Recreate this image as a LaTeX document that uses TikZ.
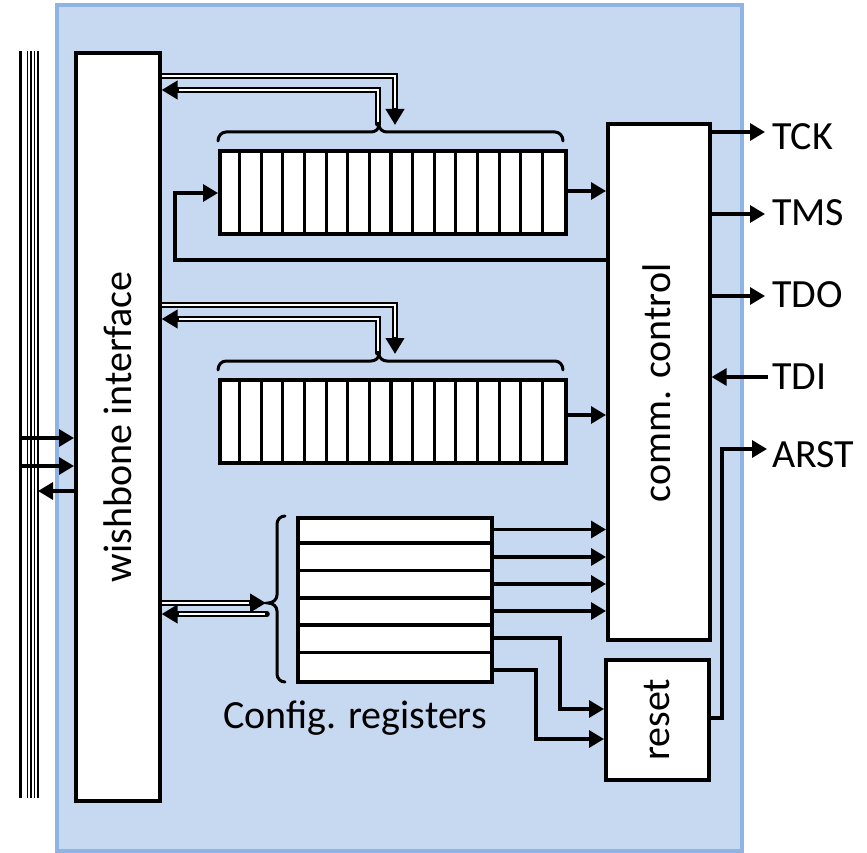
\documentclass[tikz,border=0pt]{standalone}
\usepackage{fontspec}
\setmainfont{Carlito}
\usetikzlibrary{arrows.meta}
\definecolor{bgfill}{HTML}{C6D9F1}
\definecolor{bgedge}{HTML}{8EB4E3}
\begin{document}
\begin{tikzpicture}[x=1pt,y=-1pt,
  box/.style={draw, line width=3.6pt, fill=white, inner sep=0pt},
  cellline/.style={line width=3.2pt},
  conn/.style={line width=3.2pt, -{Triangle[length=15pt,width=17pt]}},
  dblout/.style={line width=5.6pt, line cap=round, -{Triangle[length=16pt,width=18pt]}},
  dblin/.style={line width=2pt, white, shorten >=17pt},
  lbl/.style={font=\fontsize{40}{48}\selectfont, inner sep=0pt},
  bracestyle/.style={line width=3pt, line cap=round}]
\useasboundingbox (0,0) rectangle (867,853);
% background panel
\fill[bgfill] (57,5) rectangle (742,851);
\draw[bgedge, line width=3.5pt] (57,5) rectangle (742,851);
% bus lines
\draw[line width=2.4pt] (20.5,51) -- (20.5,798);
\foreach \x in {27.5,31,34.5,38} \draw[line width=1.7pt] (\x,51) -- (\x,798);
% blocks
\node[box, minimum width=84pt, minimum height=748pt, anchor=north west] (wb) at (74,51) {};
\node[lbl, rotate=90] at (wb.center) {wishbone interface};
\node[box, minimum width=102pt, minimum height=516pt, anchor=north west] (cc) at (606,122) {};
\node[lbl, rotate=90] at (657,383) {comm. control};
\node[box, minimum width=103pt, minimum height=120pt, anchor=north west] (rst) at (604,658) {};
\node[lbl, rotate=90] at (rst.center) {reset};
% FIFO 1
\node[box, minimum width=346pt, minimum height=83pt, anchor=north west] (f1) at (218,149) {};
\foreach \i in {1,...,15} \draw[cellline] (218+\i*21.625,149) -- (218+\i*21.625,232);
% FIFO 2
\node[box, minimum width=346pt, minimum height=83pt, anchor=north west] (f2) at (218,378) {};
\foreach \i in {1,...,15} \draw[cellline] (218+\i*21.625,378) -- (218+\i*21.625,461);
% config registers
\node[box, minimum width=194pt, minimum height=164pt, anchor=north west] (cfg) at (296,516) {};
\foreach \y in {543,570.5,598,625,652.5} \draw[cellline] (296,\y) -- (490,\y);
\node[lbl, anchor=center] (cfglbl) at (355,718) {Config. registers};
% braces
\draw[bracestyle] (218,141) to[out=90,in=180] (226,132) -- (371,132) to[out=0,in=-90] (379,125) to[out=-90,in=180] (387,132) -- (555,132) to[out=0,in=90] (563,141);
\draw[bracestyle] (218,370) to[out=90,in=180] (226,361) -- (371,361) to[out=0,in=-90] (379,354) to[out=-90,in=180] (387,361) -- (555,361) to[out=0,in=90] (563,370);
\draw[bracestyle] (285,516) to[out=180,in=90] (277,524) -- (277,595) to[out=-90,in=0] (268,603) to[out=0,in=90] (277,611) -- (277,674) to[out=-90,in=180] (285,682);
% double arrows FIFO 1
\draw[dblout, line cap=butt] (wb.east |- 0,76) -- (395,76) -- (395,125);
\draw[dblin] (wb.east |- 0,76) -- (395,76) -- (395,125);
\draw[dblout] (378,124) -- (378,90) -- (wb.east |- 0,90);
\draw[dblin, shorten <=2pt] (378,124) -- (378,90) -- (wb.east |- 0,90);
% double arrows FIFO 2
\draw[dblout, line cap=butt] (wb.east |- 0,305) -- (395,305) -- (395,354);
\draw[dblin] (wb.east |- 0,305) -- (395,305) -- (395,354);
\draw[dblout] (378,353) -- (378,319) -- (wb.east |- 0,319);
\draw[dblin, shorten <=2pt] (378,353) -- (378,319) -- (wb.east |- 0,319);
% double arrows config
\draw[dblout, line cap=butt] (wb.east |- 0,603) -- (266,603);
\draw[dblin] (wb.east |- 0,603) -- (266,603);
\draw[dblout] (267,614) -- (wb.east |- 0,614);
\draw[dblin, shorten <=2pt] (267,614) -- (wb.east |- 0,614);
% FIFO to comm control
\draw[conn] (f1.east |- 0,191) -- (cc.west |- 0,191);
\draw[conn] (f2.east |- 0,415) -- (cc.west |- 0,415);
\draw[conn] (cc.west |- 0,260) -- (175,260) -- (175,193) -- (f1.west |- 0,193);
% config to comm control
\foreach \y in {529.5,557,584,611} \draw[conn] (cfg.east |- 0,\y) -- (cc.west |- 0,\y);
\draw[conn] (cfg.east |- 0,638) -- (560,638) -- (560,709) -- (rst.west |- 0,709);
\draw[conn] (cfg.east |- 0,670) -- (536,670) -- (536,739) -- (rst.west |- 0,739);
% bus arrows
\coordinate (b1) at (20.5,438);
\coordinate (b2) at (20.5,466);
\coordinate (b3) at (38,491);
\draw[conn] (b1) -- (wb.west |- b1);
\draw[conn] (b2) -- (wb.west |- b2);
\draw[conn] (wb.west |- b3) -- (b3);
% JTAG signals
\node[lbl, anchor=west] (TCK) at (772,137) {TCK};
\node[lbl, anchor=west] (TMS) at (772,213) {TMS};
\node[lbl, anchor=west] (TDO) at (772,295) {TDO};
\node[lbl, anchor=west] (TDI) at (772,377) {TDI};
\node[lbl, anchor=west] (ARST) at (772,455) {ARST};
\draw[conn] (cc.east |- 0,132) -- (765,132);
\draw[conn] (cc.east |- 0,214) -- (765,214);
\draw[conn] (cc.east |- 0,296) -- (765,296);
\draw[conn] (768,377) -- (cc.east |- 0,377);
\draw[conn] (rst.east |- 0,718) -- (722,718) -- (722,449) -- (767,449);
\end{tikzpicture}
\end{document}
